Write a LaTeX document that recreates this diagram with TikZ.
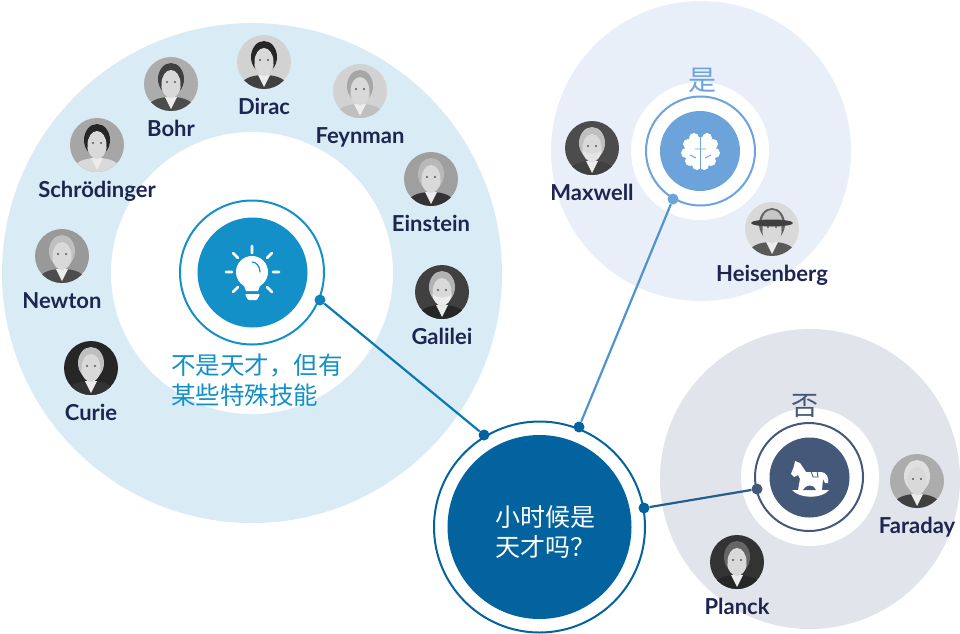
\documentclass[tikz,border=0pt]{standalone}
\usepackage{fontspec}
\setmainfont{Lato}
\newfontfamily\cjk{Noto Sans CJK SC}
\usepackage{tikz}
\usetikzlibrary{positioning, shapes.geometric}

\definecolor{leftlight}{HTML}{D9ECF5}
\definecolor{leftblue}{HTML}{1490C8}
\definecolor{midblue}{HTML}{02639F}
\definecolor{yeslight}{HTML}{E8EFF8}
\definecolor{yesblue}{HTML}{6CA3DB}
\definecolor{nolight}{HTML}{E1E4EA}
\definecolor{noblue}{HTML}{44597A}
\definecolor{namecolor}{HTML}{1E2550}

% face, drawn inside a portrait node: #1 background, #2 hair, #3 coat, #4 beard
\newcommand{\faceinside}[4]{
    \begin{scope}[shift={(path picture bounding box.center)}]
        \fill[#1] (-30,-30) rectangle (30,30);
        \fill[#3] (-27,30) .. controls (-24,16) and (-12,13) .. (0,13) .. controls (12,13) and (24,16) .. (27,30) -- cycle;
        \fill[gray!15] (-6,13) -- (6,13) -- (0,25) -- cycle;
        \fill[#2] (0,-5) ellipse (13 and 16);
        \fill[gray!30] (0,0) ellipse (9.5 and 14);
        \fill[#4] (-9.5,2) .. controls (-9,17) and (9,17) .. (9.5,2) .. controls (4,7) and (-4,7) .. (-9.5,2) -- cycle;
        \fill[black!65] (-4,-2) circle (1.2) (4,-2) circle (1.2);
    \end{scope}
}

\begin{document}
\begin{tikzpicture}[x=1pt, y=-1pt,
    portrait/.style n args={4}{circle, minimum size=54pt, inner sep=0pt, path picture={\faceinside{#1}{#2}{#3}{#4}}},
    person/.style={font=\bfseries\fontsize{22}{22}\selectfont, text=namecolor, inner sep=0pt},
    disc/.style={circle, inner sep=0pt},
    hub/.style={circle, inner sep=0pt, draw, line width=2pt, fill=white},
    dot/.style={circle, inner sep=0pt, minimum size=11pt},
    word/.style={font=\cjk\fontsize{24.5}{30}\selectfont, inner sep=0pt, align=left}]
    \useasboundingbox (0,0) rectangle (960,633);
    % background discs
    \node[disc, fill=leftlight, minimum size=500pt] (leftbig) at (252,273) {};
    \node[disc, fill=white, minimum size=282pt] (leftinner) at (252,273) {};
    \node[disc, fill=yeslight, minimum size=300pt] (yesbig) at (701,151) {};
    \node[disc, fill=white, minimum size=138pt] (yesinner) at (700,151) {};
    \node[disc, fill=nolight, minimum size=300pt] (nobig) at (810,479) {};
    \node[disc, fill=white, minimum size=138pt] (noinner) at (810,477) {};
    % rings and dots
    \node[hub, draw=leftblue, minimum size=144pt] (leftring) at (252,272.5) {};
    \node[disc, fill=leftblue, minimum size=110pt] (leftcore) at (252.5,272.5) {};
    \node[hub, draw=midblue, minimum size=211pt] (midring) at (539.5,527) {};
    \node[disc, fill=midblue, minimum size=184pt] (midcore) at (539.5,527) {};
    \node[hub, draw=yesblue, minimum size=109pt] (yesring) at (700.5,151) {};
    \node[disc, fill=yesblue, minimum size=80pt] (yescore) at (700,151) {};
    \node[hub, draw=noblue, minimum size=108pt] (noring) at (809,477) {};
    \node[disc, fill=noblue, minimum size=80pt] (nocore) at (809.5,477.5) {};
    \node[dot, fill=leftblue!70!midblue] (leftdot) at (320,300) {};
    \node[dot, fill=midblue] (middotl) at (484,435) {};
    \node[dot, fill=midblue] (middott) at (579,427) {};
    \node[dot, fill=midblue] (middotr) at (644,508) {};
    \node[dot, fill=yesblue] (yesdot) at (673,199) {};
    \node[dot, fill=noblue] (nodot) at (757,489) {};
    \draw[line width=2.2pt, leftblue!50!midblue] (leftdot) -- (middotl);
    \draw[line width=2.2pt, yesblue!75!midblue] (yesdot) -- (middott);
    \draw[line width=2.2pt, noblue!50!midblue] (nodot) -- (middotr);
    % texts
    \node[word, text=white, font=\cjk\fontsize{25}{30}\selectfont] (question) at (545,532) {小时候是\\天才吗？};
    \node[word, text=leftblue] (skill) at (257,380) {不是天才，但有\\某些特殊技能};
    \node[word, text=yesblue, font=\cjk\fontsize{28}{28}\selectfont] (yes) at (702,80) {是};
    \node[word, text=noblue, font=\cjk\fontsize{27}{27}\selectfont] (no) at (805,406) {否};
    % bulb
    \fill[white] (252,272) circle (16);
    \fill[white] (243,283) -- (261,283) -- (258,291) -- (246,291) -- cycle;
    \fill[white, rounded corners=1pt] (245,294) -- (260,294) -- (257,300) -- (248,300) -- cycle;
    \draw[leftblue, line width=1.2pt, line cap=round] (252,262) .. controls (256,262) and (260,266) .. (260,272);
    \draw[white, line width=2.6pt, line cap=round]
        (252,253) -- (252,246) (233,253) -- (238,258) (272,253) -- (267,258)
        (226,272) -- (232,272) (273,272) -- (279,272)
        (233,292) -- (238,287) (272,292) -- (267,287);
    % brain
    \fill[white] (694,138) circle (5) (688,144) circle (5) (686,153) circle (5) (690,161) circle (5) (697,165) circle (5)
        (707,138) circle (5) (713,144) circle (5) (715,153) circle (5) (711,161) circle (5) (704,165) circle (5)
        (700.5,151) ellipse (12 and 14);
    \draw[yesblue, line width=0.9pt] (700.5,136) -- (700.5,170) (695,149) -- (706,149) (690,155) -- (696,158) (711,155) -- (705,158);
    % rocking horse
    \fill[white] (795,461) -- (800,463) -- (806,472) -- (820,472) .. controls (827,472) and (829,478) .. (828,483) -- (825,483) -- (823,479) -- (822,490) -- (829,490) .. controls (822,499) and (800,499) .. (792,490) -- (798,490) -- (800,479) -- (798,475) -- (794,477) -- (791,474) -- (794,466) -- cycle;
    \fill[noblue] (803,490) .. controls (806,484) and (814,484) .. (816,490) -- cycle;
    \draw[noblue, line width=0.9pt] (811,471) -- (813,477) -- (818,477) -- (817,471);
    % portraits
    \node[portrait={gray!65}{black!75}{black!70}{gray!30}] (bohr) at (171,84) {};
    \node[portrait={gray!35}{black!85}{black!75}{gray!30}] (dirac) at (264,62) {};
    \node[portrait={gray!35}{gray!70}{gray!50}{gray!30}] (feynman) at (360,91) {};
    \node[portrait={gray!75}{gray!55}{black!80}{gray!30}] (einstein) at (431,179) {};
    \node[portrait={black!75}{gray!60}{black!85}{gray!15}] (galilei) at (442,292) {};
    \node[portrait={gray!70}{black!85}{gray!30}{gray!30}] (schrodinger) at (97,145) {};
    \node[portrait={gray!80}{gray!50}{black!70}{gray!30}] (newton) at (62,256) {};
    \node[portrait={black!85}{gray!50}{black!80}{gray!30}] (curie) at (91,368) {};
    \node[portrait={black!70}{gray!50}{black!75}{gray!20}] (maxwell) at (592,148) {};
    \node[portrait={gray!30}{black!60}{black!65}{gray!30}] (heisenberg) at (772,229) {};
    \node[portrait={gray!65}{gray!25}{black!75}{gray!30}] (faraday) at (917,481) {};
    \node[portrait={black!80}{black!60}{black!85}{gray!30}] (planck) at (737,562) {};
    % hat
    \fill[gray!45] (762,222) .. controls (762,206) and (782,206) .. (782,222) -- cycle;
    \fill[black!75] (772,223) ellipse (21 and 3.5);
    \node[person] (bohrname) [below=9pt of bohr] {Bohr};
    \node[person] (diracname) [below=9pt of dirac] {Dirac};
    \node[person] (feynmanname) [below=9pt of feynman] {Feynman};
    \node[person] (einsteinname) [below=9pt of einstein] {Einstein};
    \node[person] (galileiname) [below=9pt of galilei] {Galilei};
    \node[person] (schrodingername) [below=9pt of schrodinger] {Schrödinger};
    \node[person] (newtonname) [below=9pt of newton] {Newton};
    \node[person] (curiename) [below=9pt of curie] {Curie};
    \node[person] (maxwellname) [below=9pt of maxwell] {Maxwell};
    \node[person] (heisenbergname) [below=9pt of heisenberg] {Heisenberg};
    \node[person] (faradayname) [below=9pt of faraday] {Faraday};
    \node[person] (planckname) [below=9pt of planck] {Planck};
\end{tikzpicture}
\end{document}
